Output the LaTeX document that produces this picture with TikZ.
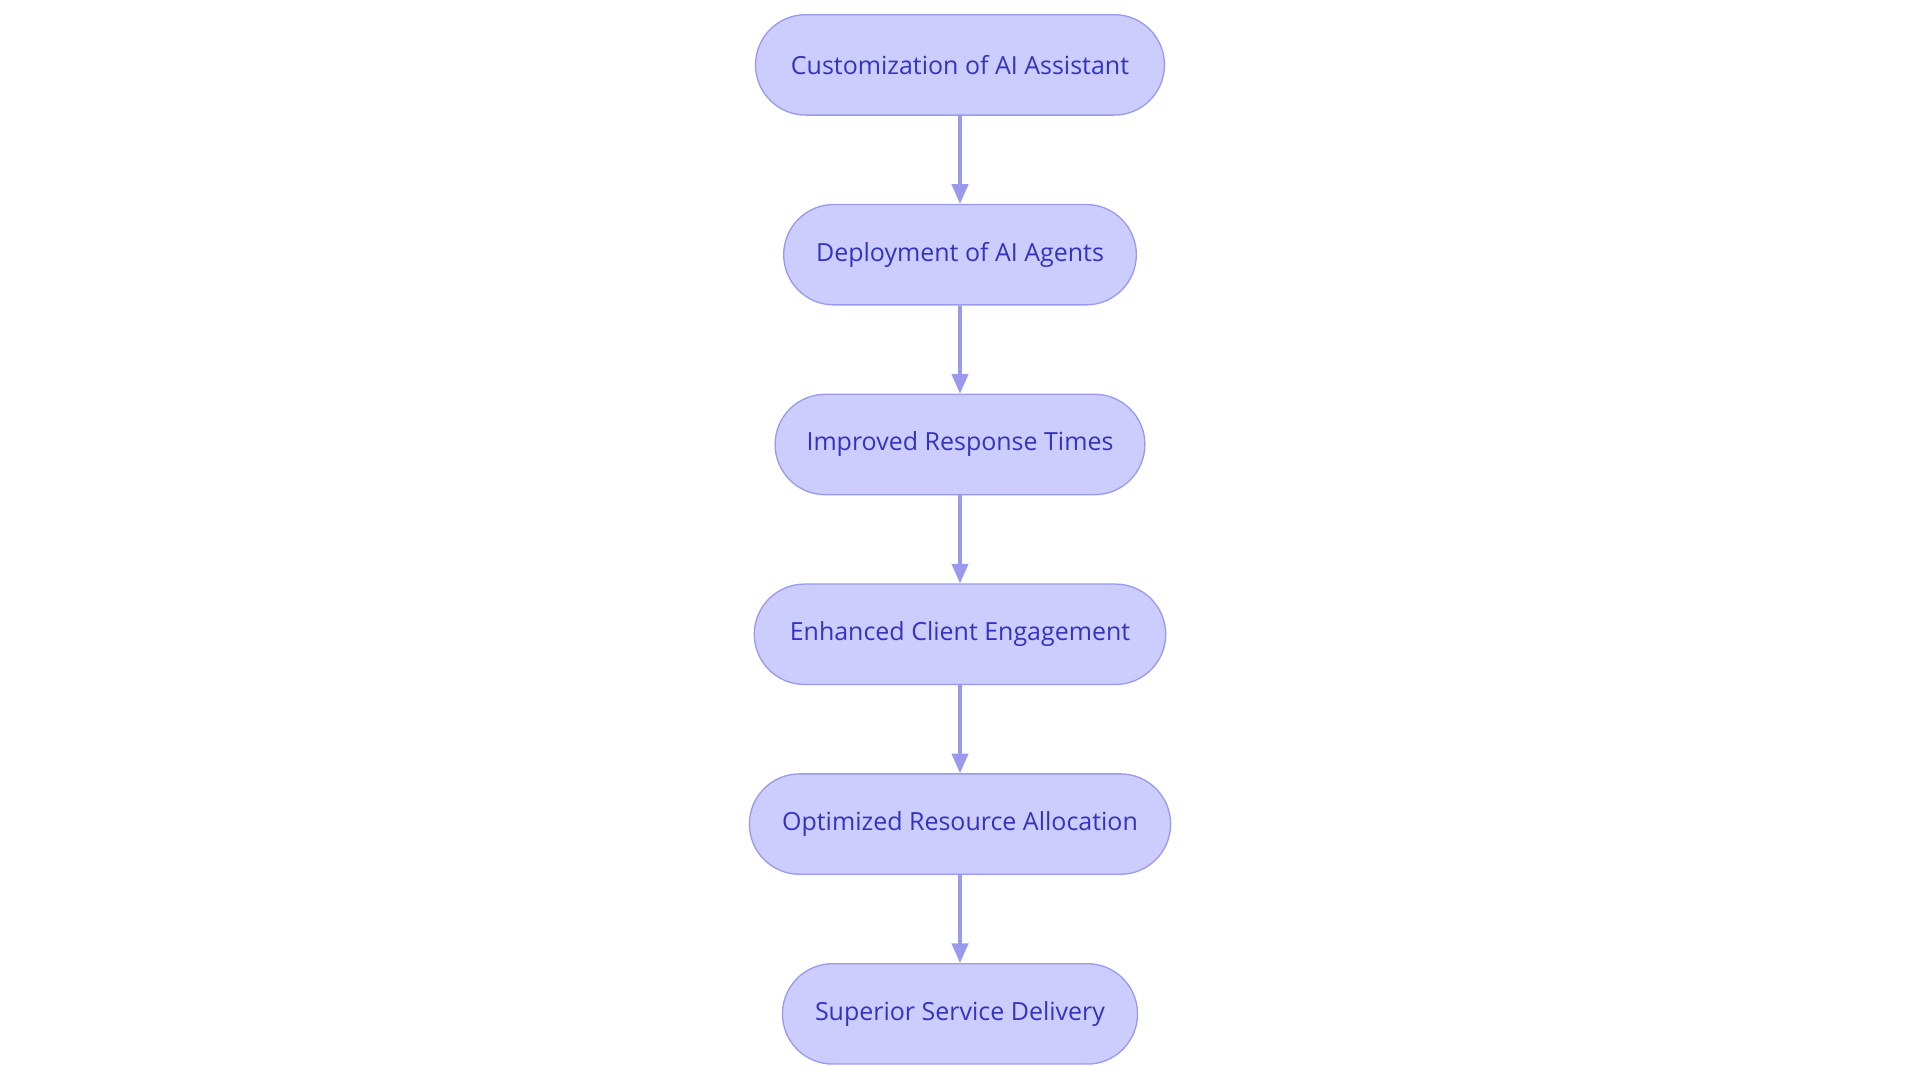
\documentclass[tikz,border=0pt]{standalone}
\usepackage{fontspec}
\setmainfont{Open Sans}
\usetikzlibrary{arrows.meta}
\definecolor{nfill}{HTML}{CCCCFF}
\definecolor{nline}{HTML}{9999EE}
\definecolor{ntext}{HTML}{3333C0}
\begin{document}
\begin{tikzpicture}[x=0.75pt,y=-0.75pt,
  box/.style={draw=nline,fill=nfill,rounded corners=30.75pt,minimum height=61.5pt,text=ntext,font=\fontsize{15.3}{17}\selectfont,inner sep=0pt,line width=0.8pt},
  arr/.style={draw=nline,line width=2pt,-{Triangle[length=12pt,width=10pt]}}]
\useasboundingbox (0,0) rectangle (1568,884);
\node[box,minimum width=250.5pt] (a) at (784,53) {Customization of AI Assistant};
\node[box,minimum width=216pt] (b) at (784,208) {Deployment of AI Agents};
\node[box,minimum width=226.5pt] (c) at (784,363) {Improved Response Times};
\node[box,minimum width=252pt] (d) at (784,518) {Enhanced Client Engagement};
\node[box,minimum width=258pt] (e) at (784,673) {Optimized Resource Allocation};
\node[box,minimum width=217.5pt] (f) at (784,828) {Superior Service Delivery};
\draw[arr] (a) -- (b);
\draw[arr] (b) -- (c);
\draw[arr] (c) -- (d);
\draw[arr] (d) -- (e);
\draw[arr] (e) -- (f);
\end{tikzpicture}
\end{document}
